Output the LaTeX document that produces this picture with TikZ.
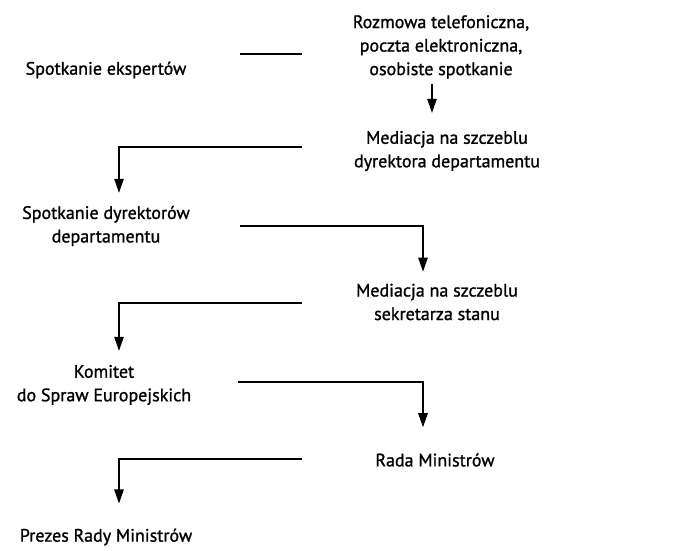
\documentclass[tikz,border=0pt]{standalone}
\usepackage{fontspec}
\setmainfont{PT Sans}[FakeBold=1.2]
\usetikzlibrary{arrows.meta}
\begin{document}
\begin{tikzpicture}[x=1pt,y=-1pt,
  lbl/.style={font=\fontsize{18}{23.5}\selectfont, align=center, inner sep=0pt},
  leftbox/.style={lbl, minimum width=268pt},
  conn/.style={line width=1.2pt},
  arr/.style={conn,-{Triangle[length=14pt,width=9.5pt]}}]
\useasboundingbox (0,0) rectangle (677,551);
\node[leftbox] (se) at (106,70) {Spotkanie ekspertów};
\node[lbl, minimum width=278pt] (roz) at (441,47) {Rozmowa telefoniczna,\\poczta elektroniczna,\\osobiste spotkanie};
\node[lbl, minimum width=290pt] (med1) at (447,151) {Mediacja na szczeblu\\dyrektora departamentu};
\node[leftbox] (sd) at (106,226) {Spotkanie dyrektorów\\departamentu};
\node[lbl, minimum width=270pt] (med2) at (437,302) {Mediacja na szczeblu\\sekretarza stanu};
\node[leftbox] (kom) at (104,385) {Komitet\\do Spraw Europejskich};
\node[lbl, minimum width=266pt] (rada) at (435,460) {Rada Ministrów};
\node[leftbox] (prezes) at (106,537) {Prezes Rady Ministrów};
% connectors
\draw[conn] ([yshift=16pt]se.east) -- ([yshift=16pt]se.east -| roz.west);
\draw[arr] ([xshift=-9pt,yshift=-5pt]roz.south) -- ([xshift=-15pt,yshift=18pt]med1.north);
\draw[arr] ([yshift=4pt]med1.west) -| ([xshift=13pt,yshift=13pt]sd.north);
\draw[arr] ([yshift=0pt]sd.east) -| ([xshift=-14pt,yshift=12pt]med2.north);
\draw[arr] ([yshift=-1pt]med2.west) -| ([xshift=15pt,yshift=14pt]kom.north);
\draw[arr] ([yshift=3pt]kom.east) -| ([xshift=-12pt,yshift=26pt]rada.north);
\draw[arr] ([yshift=1pt]rada.west) -| ([xshift=13pt,yshift=25pt]prezes.north);
\end{tikzpicture}
\end{document}
